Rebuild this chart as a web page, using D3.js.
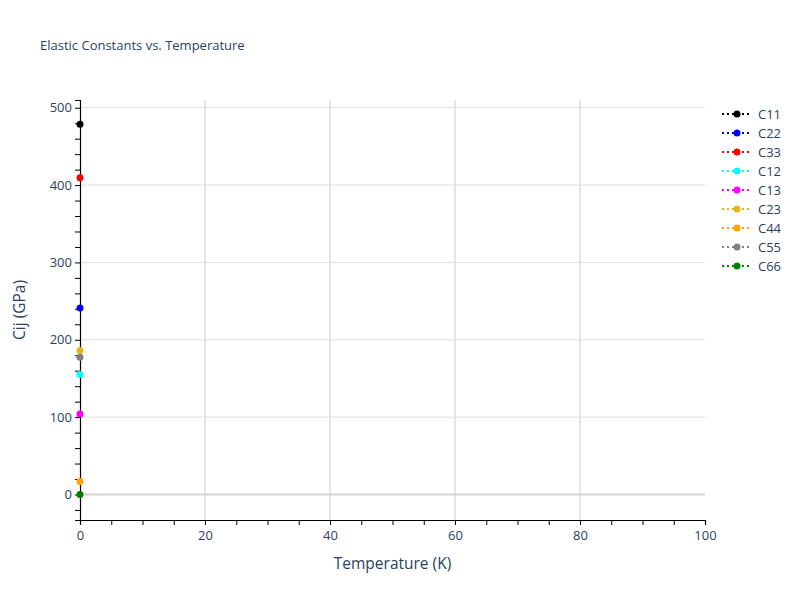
<!DOCTYPE html>
<html lang="en">
<head>
<meta charset="utf-8">
<title>Elastic Constants vs. Temperature</title>
<script src="https://cdn.jsdelivr.net/npm/d3@7"></script>
<style>
  body { margin: 0; background: #fff; }
  text { font-family: "Open Sans", "DejaVu Sans", sans-serif; fill: #2a3f5f; }
</style>
</head>
<body>
<script>
// data: each constant has a single point at T = 0 K
var names = ["C11", "C22", "C33", "C12", "C13", "C23", "C44", "C55", "C66"];
var colors = ["black", "blue", "red", "cyan", "magenta", "#e0b81c", "orange", "gray", "green"];
var temps = [0];
var values = [[478.5], [241], [409.5], [155], [104], [186], [16.8], [177.5], [0]];
var xTicks = [0, 20, 40, 60, 80, 100];
var yTicks = [0, 100, 200, 300, 400, 500];

var w = 800, h = 600;
var mLeft = 80, mRight = 705, mTop = 100, mBottom = 520;

var svg = d3.select("body").append("svg")
  .attr("width", w).attr("height", h);

var x = d3.scaleLinear().domain([0, 100]).range([mLeft, mRight]);
var y = d3.scaleLinear().domain([-33, 510]).range([mBottom, mTop]);

// gridlines
svg.append("g").selectAll("line")
  .data(xTicks.filter(function(d) { return d > 0 && d < 100; }))
  .enter().append("line")
  .attr("x1", function(d) { return x(d); }).attr("x2", function(d) { return x(d); })
  .attr("y1", mTop).attr("y2", mBottom)
  .attr("stroke", "#e5e5e5").attr("stroke-width", 2);
svg.append("g").selectAll("line")
  .data(yTicks)
  .enter().append("line")
  .attr("x1", mLeft).attr("x2", mRight)
  .attr("y1", function(d) { return y(d); }).attr("y2", function(d) { return y(d); })
  .attr("stroke", function(d) { return d === 0 ? "#d4d4d4" : "#e0e0e0"; })
  .attr("stroke-width", function(d) { return d === 0 ? 2 : 1; });

// axes
var xAxis = svg.append("g").attr("transform", "translate(0," + mBottom + ")")
  .call(d3.axisBottom(x).tickValues(xTicks).tickSize(5).tickPadding(6));
var xMinor = svg.append("g").attr("transform", "translate(0," + mBottom + ")")
  .call(d3.axisBottom(x).tickValues(d3.range(5, 100, 5).filter(function(d) { return d % 20; }))
    .tickSize(5).tickFormat(""));
var yAxis = svg.append("g").attr("transform", "translate(" + mLeft + ",0)")
  .call(d3.axisLeft(y).tickValues(yTicks).tickSize(5).tickPadding(3));
var yMinor = svg.append("g").attr("transform", "translate(" + mLeft + ",0)")
  .call(d3.axisLeft(y).tickValues(d3.range(-20, 510, 20).filter(function(d) { return d % 100; }))
    .tickSize(5).tickFormat(""));

[xAxis, xMinor, yAxis, yMinor].forEach(function(g) {
  g.selectAll("path").attr("stroke", "black").attr("stroke-width", 1.2);
  g.selectAll("line").attr("stroke", "black");
  g.selectAll("text").attr("font-size", "13px").attr("fill", "#2a3f5f")
    .style("font-family", "'Open Sans', sans-serif");
});
xMinor.select("path").remove();
yMinor.select("path").remove();

// series
names.forEach(function(name, i) {
  var pts = temps.map(function(t, j) { return [t, values[i][j]]; });
  svg.append("path")
    .datum(pts)
    .attr("fill", "none")
    .attr("stroke", colors[i])
    .attr("stroke-width", 2)
    .attr("stroke-dasharray", "2,3")
    .attr("d", d3.line().x(function(d) { return x(d[0]); }).y(function(d) { return y(d[1]); }));
  svg.append("g").selectAll("circle")
    .data(pts)
    .enter().append("circle")
    .attr("cx", function(d) { return x(d[0]); })
    .attr("cy", function(d) { return y(d[1]); })
    .attr("r", 3.5)
    .attr("fill", colors[i]);
});

// legend
var legend = svg.append("g").attr("transform", "translate(722,114)");
var item = legend.selectAll("g")
  .data(names)
  .enter().append("g")
  .attr("transform", function(d, i) { return "translate(0," + (i * 19) + ")"; });
item.append("line")
  .attr("x1", 0).attr("x2", 30).attr("y1", 0).attr("y2", 0)
  .attr("stroke", function(d, i) { return colors[i]; })
  .attr("stroke-width", 2)
  .attr("stroke-dasharray", "2,3");
item.append("circle")
  .attr("cx", 15).attr("cy", 0).attr("r", 3.5)
  .attr("fill", function(d, i) { return colors[i]; });
item.append("text")
  .attr("x", 36).attr("y", 4.5)
  .attr("font-size", "13px")
  .text(function(d) { return d; });

// titles
svg.append("text")
  .attr("x", 40).attr("y", 50)
  .attr("font-size", "13px")
  .text("Elastic Constants vs. Temperature");
svg.append("text")
  .attr("x", (mLeft + mRight) / 2).attr("y", 569)
  .attr("text-anchor", "middle")
  .attr("font-size", "15.5px")
  .text("Temperature (K)");
svg.append("text")
  .attr("transform", "translate(25," + ((mTop + mBottom) / 2) + ") rotate(-90)")
  .attr("text-anchor", "middle")
  .attr("font-size", "15.5px")
  .text("Cij (GPa)");
</script>
</body>
</html>
